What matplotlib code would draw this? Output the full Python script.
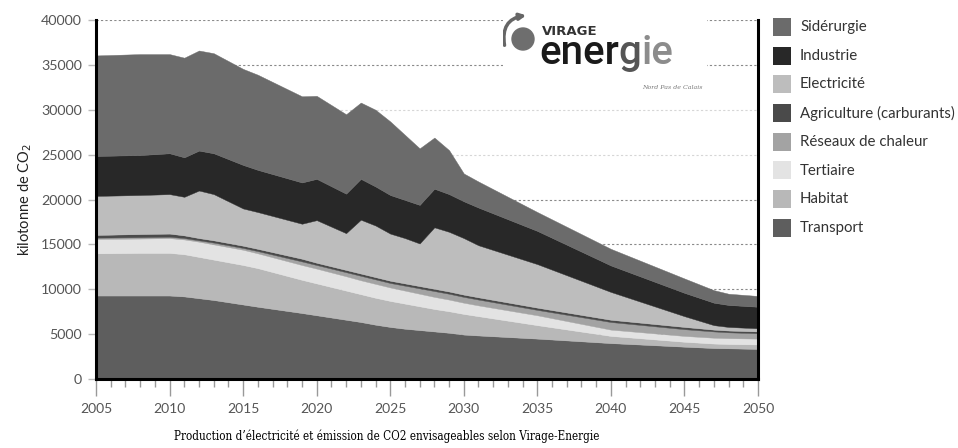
import numpy as np
import matplotlib
matplotlib.use("Agg")
import matplotlib.pyplot as plt
from matplotlib import font_manager
from matplotlib.patches import Circle, FancyArrowPatch, Rectangle

plt.rcParams['font.family'] = ['Lato', 'DejaVu Sans']

# données (kt CO2, épaisseur de chaque couche)
annees = [2005, 2008, 2010, 2011, 2012, 2013, 2015, 2016, 2019, 2020, 2022, 2023, 2024,
          2025, 2026, 2027, 2028, 2029, 2030, 2031, 2035, 2040, 2045, 2047, 2048, 2050]

transport = [9300, 9300, 9300, 9200, 9000, 8800, 8300, 8050, 7350, 7100, 6600, 6350, 6050,
             5800, 5600, 5450, 5300, 5150, 4950, 4850, 4500, 4000, 3600, 3450, 3420, 3350]
habitat = [4700, 4750, 4750, 4700, 4600, 4500, 4400, 4300, 3700, 3550, 3250, 3100, 3000,
           2900, 2800, 2650, 2500, 2400, 2300, 2150, 1500, 800, 550, 500, 480, 500]
tertiaire = [1600, 1600, 1650, 1650, 1700, 1700, 1700, 1650, 1650, 1650, 1600, 1550, 1550,
             1500, 1450, 1400, 1350, 1300, 1250, 1200, 1100, 700, 650, 650, 650, 650]
reseaux = [150, 150, 150, 150, 150, 200, 200, 250, 400, 400, 450, 500, 500,
           500, 550, 600, 650, 650, 650, 650, 600, 850, 750, 700, 650, 600]
agriculture = [300, 350, 350, 300, 250, 250, 250, 250, 300, 250, 250, 250, 250,
               250, 250, 250, 250, 250, 250, 250, 250, 250, 250, 200, 200, 200]
electricite = [4350, 4350, 4400, 4300, 5300, 5150, 4150, 4100, 3900, 4750, 4100, 6000, 5750,
               5250, 5050, 4750, 6850, 6650, 6300, 5800, 4850, 3100, 1200, 500, 400, 350]
industrie = [4450, 4450, 4550, 4400, 4450, 4550, 4850, 4700, 4600, 4600, 4400, 4550, 4350,
             4300, 4250, 4300, 4300, 4200, 4100, 4200, 3700, 2950, 2600, 2500, 2450, 2400]
siderurgie = [11200, 11250, 11050, 11100, 11150, 11150, 10700, 10600, 9600, 9250, 8850, 8500, 8550,
              8200, 7250, 6300, 5700, 4900, 3100, 2900, 2100, 1850, 1600, 1400, 1250, 1200]

secteurs = ["Transport", "Habitat", "Tertiaire", "Réseaux de chaleur",
            "Agriculture (carburants)", "Electricité", "Industrie", "Sidérurgie"]
couleurs = ["#5e5e5e", "#b8b8b8", "#e3e3e3", "#a3a3a3",
            "#4a4a4a", "#bdbdbd", "#282828", "#6b6b6b"]

titre = "Production d\u2019électricité et émission de CO2 envisageables selon Virage-Energie"

W, H = 958, 448
fig = plt.figure(figsize=(W / 100, H / 100), dpi=100)
ax = fig.add_axes([96 / W, 1 - 379 / H, 662 / W, 359 / H])

valeurs = [transport, habitat, tertiaire, reseaux, agriculture, electricite, industrie, siderurgie]
ax.stackplot(annees, *valeurs, colors=couleurs, linewidth=0.3,
             edgecolor="face", zorder=2)

ax.set_xlim(2005, 2050)
ax.set_ylim(0, 40000)

# grille pointillée (30000 et 25000 plus pâles, comme sur l'original)
ax.set_yticks(range(0, 40001, 5000))
ax.yaxis.grid(True, color="#8a8a8a", linestyle=(0, (2, 2)), linewidth=0.8, zorder=1)
ax.set_axisbelow(True)
grille = ax.get_ygridlines()
grille[5].set_color("#d6d6d6")
grille[6].set_color("#d6d6d6")

ax.set_xticks(range(2005, 2051, 5))
ax.set_xticks(range(2005, 2051), minor=True)
ax.tick_params(axis="x", which="major", length=12, width=1, color="#999999",
               labelsize=10, labelcolor="#555555", pad=5)
ax.tick_params(axis="x", which="minor", length=6, width=1, color="#999999")
ax.tick_params(axis="y", length=6, width=1, color="#bbbbbb",
               labelsize=10.3, labelcolor="#555555", pad=4)

for cote in ["left", "bottom", "right"]:
    ax.spines[cote].set_linewidth(2.2)
    ax.spines[cote].set_color("black")
ax.spines["top"].set_visible(False)

ax.set_ylabel("kilotonne de CO$_2$", fontsize=10.5, color="#222222", labelpad=5)

# légende dessinée à la main (ordre inverse de l'empilement)
for i, (nom, teinte) in enumerate(zip(secteurs[::-1], couleurs[::-1])):
    yc = 27 + i * 28.7
    fig.add_artist(Rectangle((773 / W, 1 - (yc + 9) / H), 18 / W, 18 / H,
                             transform=fig.transFigure, facecolor=teinte, edgecolor="none"))
    fig.text(800 / W, 1 - yc / H, nom, fontsize=10.8, color="#333333", va="center")

# logo Virage Energie
logo = fig.add_axes([503 / W, 1 - 97 / H, 204 / W, 90 / H])
logo.set_xlim(0, 204)
logo.set_ylim(97, 7)
logo.set_facecolor("white")
logo.set_zorder(3)
for s in logo.spines.values():
    s.set_visible(False)
logo.set_xticks([])
logo.set_yticks([])
logo.add_patch(FancyArrowPatch((2, 48), (26, 15), connectionstyle="arc3,rad=-0.55",
                               arrowstyle="-|>", mutation_scale=9, lw=2.5, color="#666666"))
logo.add_patch(Circle((20, 39), 11, color="#6e6e6e", zorder=3))
logo.text(39, 35, "VIRAGE", fontsize=9.5, fontweight="bold", color="#333333",
          family="DejaVu Sans", va="baseline")

rendu = fig.canvas.get_renderer()
x_mot = 36
for morceau, teinte in [("ener", "#1a1a1a"), ("g", "#555555"), ("ie", "#8c8c8c")]:
    t = logo.text(x_mot, 64, morceau, fontsize=29, fontweight="medium", color=teinte,
                  family="Roboto", va="baseline")
    bb = t.get_window_extent(rendu)
    x_mot = logo.transData.inverted().transform((bb.x1, bb.y0))[0]

logo.text(139, 87, "Nord Pas de Calais", fontsize=4.5, style="italic",
          color="#777777", family="DejaVu Serif", va="center")

# titre sous le graphique
serif_etroit = any(f.name == "DejaVu Serif" and f.stretch == "condensed"
                   for f in font_manager.fontManager.ttflist)
if serif_etroit:
    fig.text(387 / W, 1 - 436 / H, titre, ha="center", va="center", fontsize=8.4,
             family="DejaVu Serif", fontstretch="condensed", color="#000000")
else:
    fig.text(387 / W, 1 - 436 / H, titre, ha="center", va="center", fontsize=8.5,
             fontweight="bold", family="Liberation Serif", color="#111111")

fig.savefig("out.png", dpi=100, facecolor="white")
